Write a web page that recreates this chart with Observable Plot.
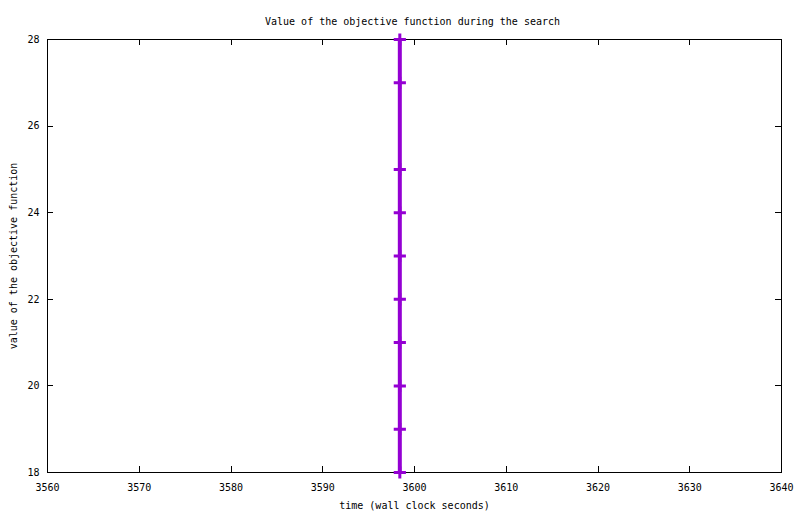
<!DOCTYPE html>
<html>
<head>
<meta charset="utf-8">
<script src="https://cdn.jsdelivr.net/npm/d3@7"></script>
<script src="https://cdn.jsdelivr.net/npm/@observablehq/plot@0.6"></script>
<style>
  html, body { margin: 0; padding: 0; background: #fff; }
</style>
</head>
<body>
<div id="chart"></div>
<script>
const titleText = "Value of the objective function during the search";
const xLabel = "time (wall clock seconds)";
const yLabel = "value of the objective function";
const xTicks = [3560, 3570, 3580, 3590, 3600, 3610, 3620, 3630, 3640];
const yTicks = [18, 20, 22, 24, 26, 28];
const times = [3598.4, 3598.4, 3598.4, 3598.4, 3598.4, 3598.4, 3598.4, 3598.4, 3598.4, 3598.4];
const objective = [28, 27, 25, 24, 23, 22, 21, 20, 19, 18];

const data = times.map((t, i) => ({time: t, value: objective[i]}));
const color = "#9400d3";

const chart = Plot.plot({
  width: 800,
  height: 514,
  marginLeft: 47,
  marginRight: 19,
  marginTop: 39,
  marginBottom: 42,
  style: {fontFamily: "DejaVu Sans Mono", fontSize: "10px", background: "white", color: "black"},
  x: {domain: [3560, 3640]},
  y: {domain: [18, 28]},
  marks: [
    Plot.frame({stroke: "black", shapeRendering: "crispEdges"}),
    Plot.tickX(xTicks, {x: d => d, insetTop: 427, stroke: "black", shapeRendering: "crispEdges"}),
    Plot.tickX(xTicks, {x: d => d, insetBottom: 427, stroke: "black", shapeRendering: "crispEdges"}),
    Plot.tickY(yTicks, {y: d => d, insetLeft: 728, stroke: "black", shapeRendering: "crispEdges"}),
    Plot.tickY(yTicks, {y: d => d, insetRight: 728, stroke: "black", shapeRendering: "crispEdges"}),
    Plot.axisX(xTicks, {tickSize: 0, tickPadding: 11, tickFormat: d => String(d), label: null}),
    Plot.axisY(yTicks, {tickSize: 0, tickPadding: 8, tickFormat: d => String(d), label: null}),
    Plot.text([xLabel], {text: d => d, frameAnchor: "bottom", dy: 33, lineAnchor: "middle", textAnchor: "middle"}),
    Plot.text([yLabel], {text: d => d, frameAnchor: "left", dx: -34, rotate: -90, lineAnchor: "middle", textAnchor: "middle"}),
    Plot.text([titleText], {text: d => d, frameAnchor: "top", dy: -18, dx: -2, lineAnchor: "middle", textAnchor: "middle"}),
    Plot.line(data, {x: "time", y: "value", stroke: color, strokeWidth: 4, strokeLinecap: "butt"}),
    Plot.dot(data, {x: "time", y: "value", symbol: "plus", r: 4, stroke: color, strokeWidth: 3, strokeLinecap: "butt"})
  ]
});
document.getElementById("chart").appendChild(chart);
</script>
</body>
</html>
